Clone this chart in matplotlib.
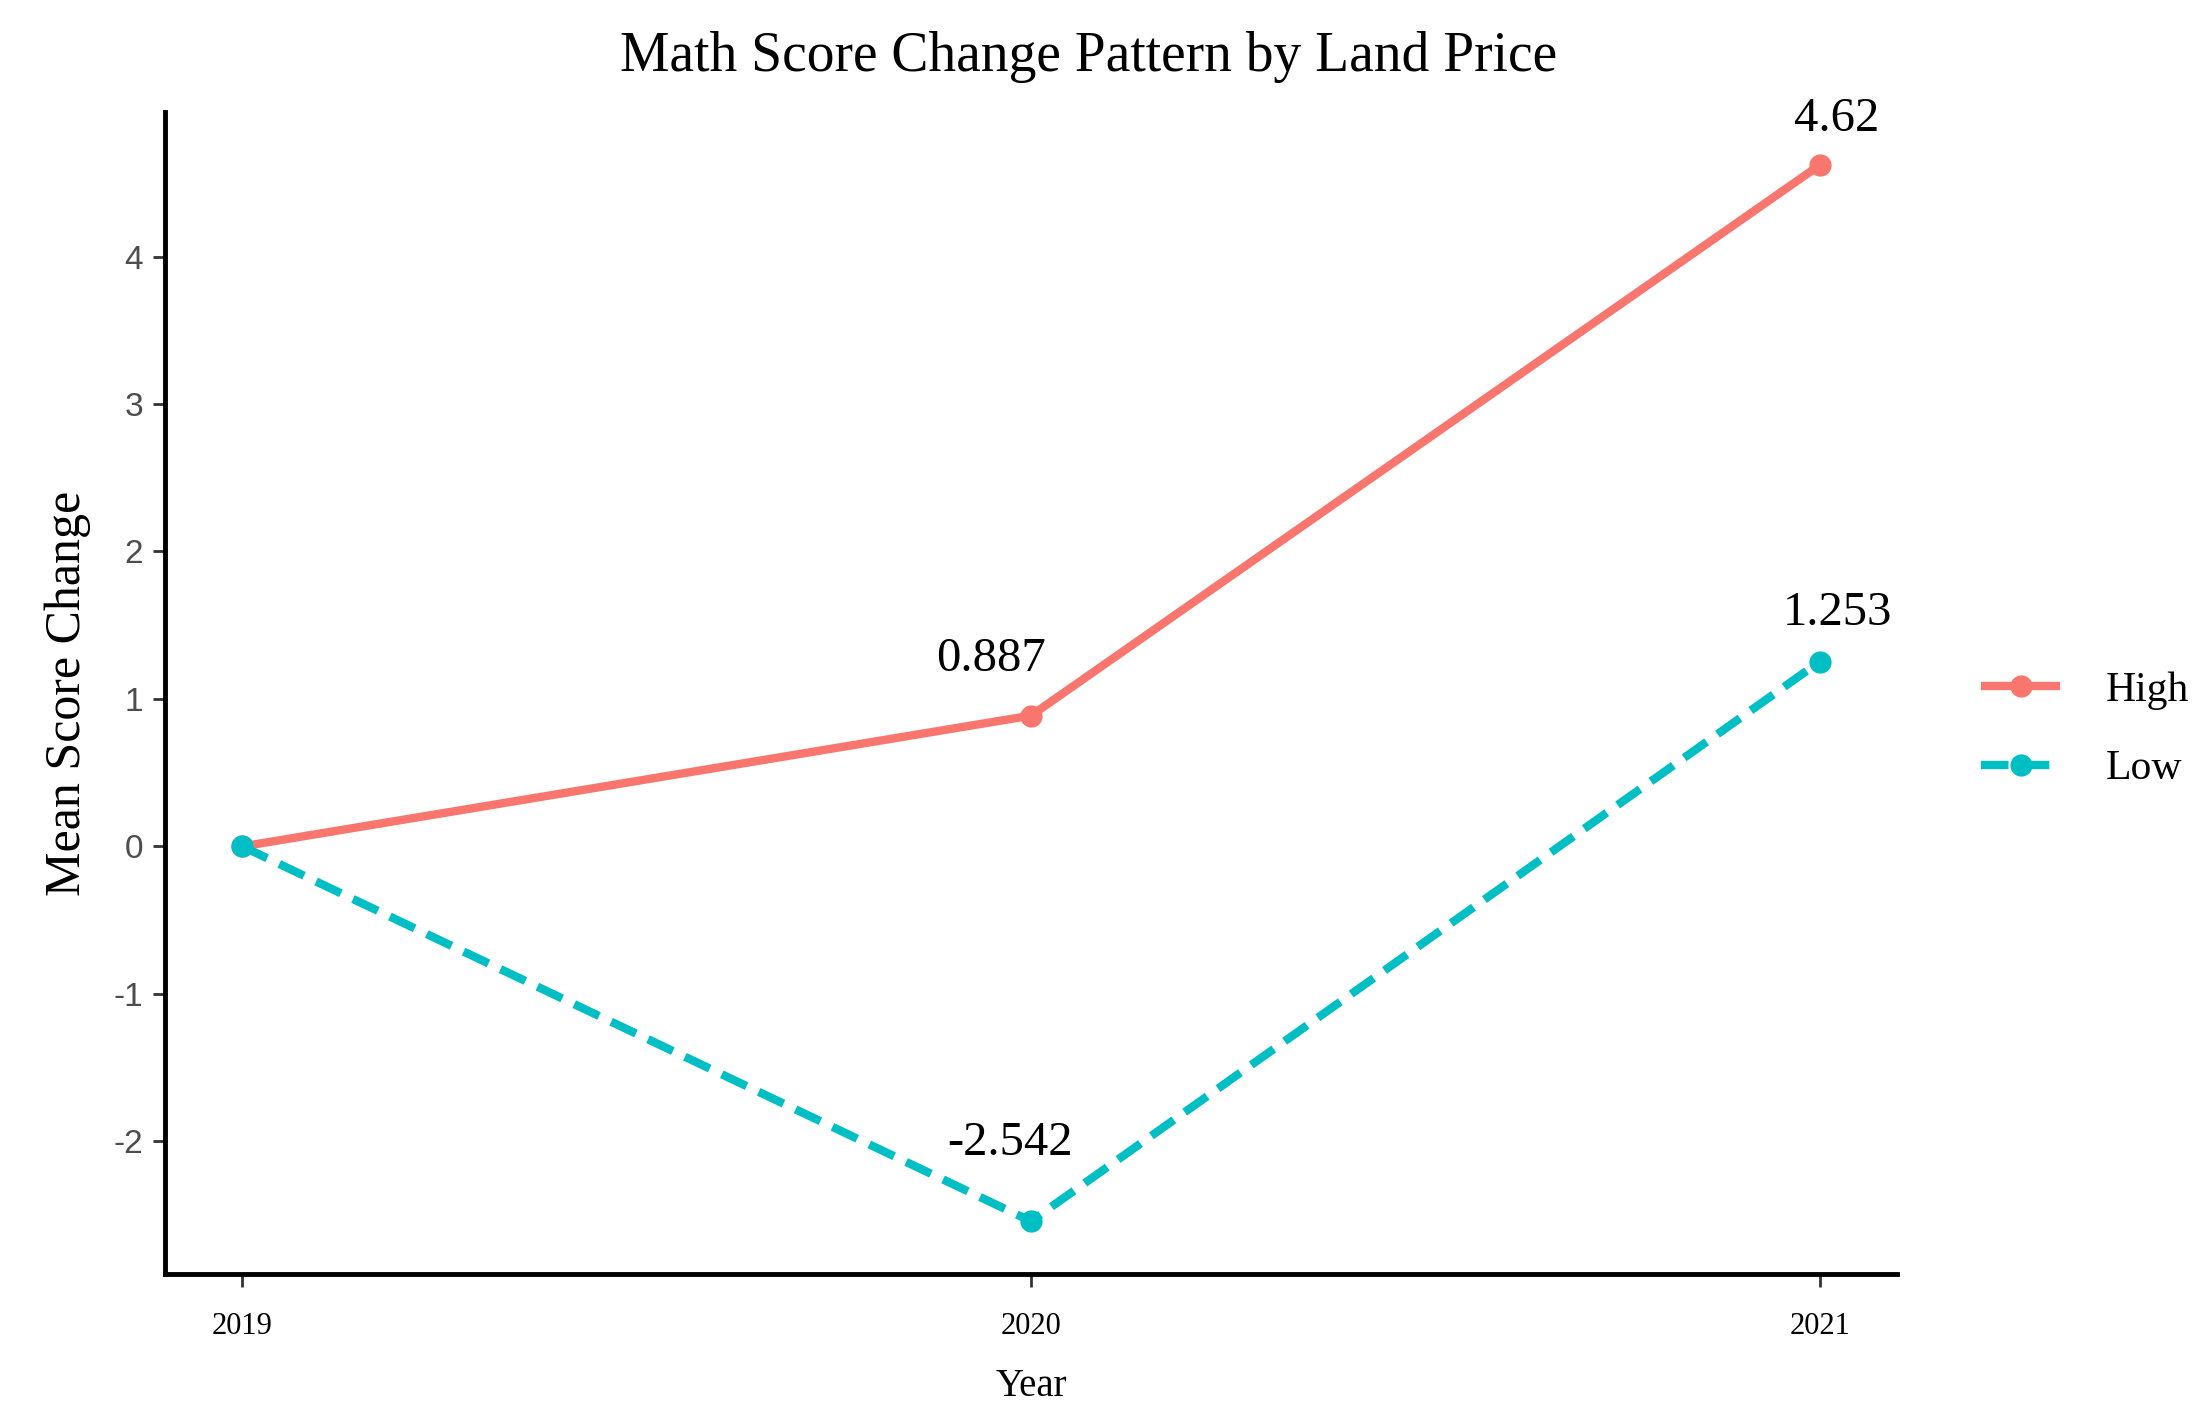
import matplotlib
matplotlib.use("Agg")
import matplotlib.pyplot as plt

years = [2019, 2020, 2021]
high = [0.0, 0.887, 4.62]
low = [0.0, -2.542, 1.253]
high_labels = ["", "0.887", "4.62"]
low_labels = ["", "-2.542", "1.253"]

col_high = "#F8766D"
col_low = "#00BFC4"

plt.rcParams['font.family'] = ['Liberation Serif', 'DejaVu Serif']

fig = plt.figure(figsize=(21.95, 14.24), dpi=100)
ax = fig.add_axes([0.0752, 0.1053, 0.789, 0.816])

ax.plot(years, high, color=col_high, lw=6, marker='o', ms=15, label="High",
        solid_capstyle='butt')
ax.plot(years, low, color=col_low, lw=6, marker='o', ms=15, label="Low",
        linestyle=(0, (3.3, 1.6)))

# labels og offsets (points)
off_high = [None, (-29, 41), (12, 33)]
off_low = [None, (-15, 56), (13, 35)]
for x, y, t, o in zip(years, high, high_labels, off_high):
    if t:
        ax.annotate(t, (x, y), xytext=o, textcoords='offset points',
                    ha='center', va='center', fontsize=35)
for x, y, t, o in zip(years, low, low_labels, off_low):
    if t:
        ax.annotate(t, (x, y), xytext=o, textcoords='offset points',
                    ha='center', va='center', fontsize=35)

ax.set_xlim(2018.902, 2021.098)
ax.set_ylim(-2.9, 4.98)
ax.set_xticks(years)
ax.set_xticklabels([str(y) for y in years], fontsize=22)
ax.set_yticks([-2, -1, 0, 1, 2, 3, 4])
ax.set_yticklabels(["-2", "-1", "0", "1", "2", "3", "4"], fontsize=24,
                   color="#4D4D4D", family=['Liberation Sans', 'DejaVu Sans'])

for s in ['top', 'right']:
    ax.spines[s].set_visible(False)
for s in ['left', 'bottom']:
    ax.spines[s].set_linewidth(3.5)
ax.tick_params(axis='both', length=9, width=2, color='#333333')
ax.tick_params(axis='y', pad=7)
ax.tick_params(axis='x', pad=18)

ax.set_xlabel("Year", fontsize=28, labelpad=20)
ax.set_ylabel("Mean Score Change", fontsize=36, labelpad=16)
fig.suptitle("Math Score Change Pattern by Land Price", fontsize=40, x=0.496, y=0.978)

fig.legend(loc='center left', bbox_to_anchor=(0.895, 0.4875), frameon=False,
           fontsize=30, handlelength=1.9, labelspacing=0.95, handletextpad=1.1,
           borderaxespad=0)

fig.savefig("out.png", dpi=100)
